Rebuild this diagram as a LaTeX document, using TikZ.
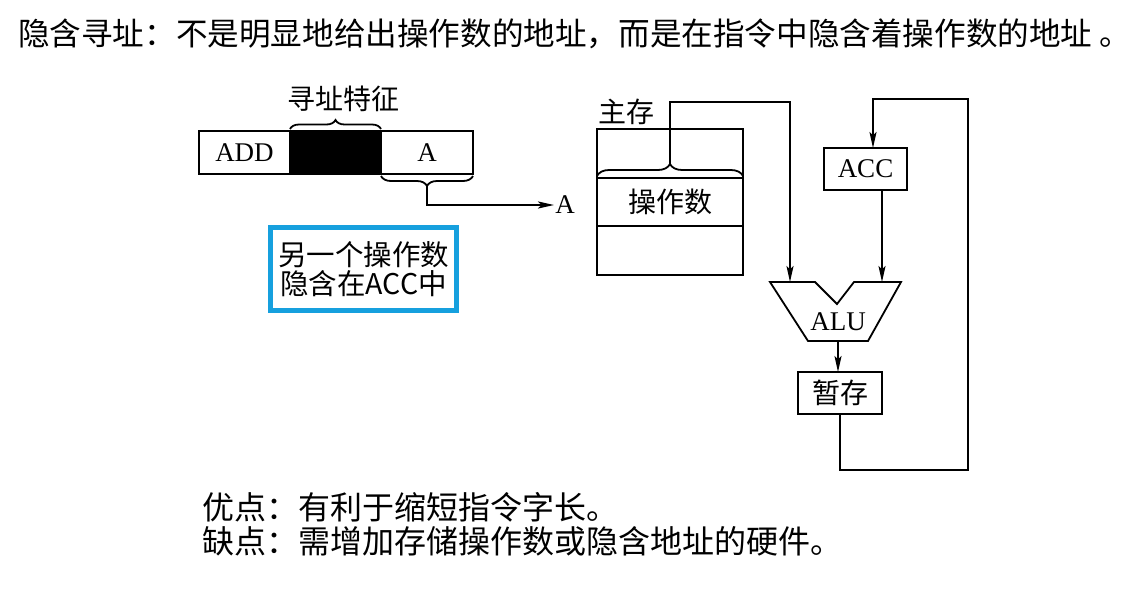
\documentclass[tikz,border=0pt]{standalone}
\usepackage{fontspec}
\setmainfont{Liberation Serif}
\newfontfamily\cjk{Noto Sans CJK SC}
\usetikzlibrary{arrows.meta,calc,positioning,decorations.pathreplacing}
\definecolor{NoteClr}{RGB}{22,160,222}

\begin{document}
\begin{tikzpicture}[x=1pt,y=-1pt]
\tikzset{
  ln/.style={line width=1.8pt},
  cell/.style={draw,ln,outer sep=0pt,inner sep=0pt,minimum height=43pt},
  arr/.style={ln,-{Stealth[length=16pt,width=7pt,inset=3.5pt]}},
  brc/.style={ln,decorate,decoration={brace,amplitude=#1}},
  en/.style={font=\fontsize{27}{30}\selectfont},
  zh/.style={font=\cjk\fontsize{28}{30}\selectfont},
  big/.style={font=\cjk\fontsize{32}{34}\selectfont,anchor=west,inner sep=0pt}
}
\useasboundingbox (0,0) rectangle (1140,594);

% texts
\node[big,font=\cjk\fontsize{31.6}{34}\selectfont] (title) at (18,34) {隐含寻址：不是明显地给出操作数的地址，而是在指令中隐含着操作数的地址 。};
\node[big] (pros) at (202,507) {优点：有利于缩短指令字长。};
\node[big] (cons) at (202,541) {缺点：需增加存储操作数或隐含地址的硬件。};

% instruction
\node[cell,en,minimum width=91pt] (op) at (244.5,152.5) {ADD};
\node[cell,fill=black,minimum width=91pt,right=0pt of op] (mode) {};
\node[cell,en,minimum width=92pt,right=0pt of mode] (addr) {A};

\draw[brc=9pt,decoration={raise=2pt}] (mode.north west) -- (mode.north east);
\node[zh] (modelbl) at (343,99) {寻址特征};

\draw[brc=10pt,decoration={raise=2pt}] (addr.south east) -- (addr.south west);
\coordinate (tipA) at ($(addr.south)+(0,12)$);
\node[en,inner sep=1pt] (ptr) at (565,205) {A};
\draw[arr] (tipA) |- (ptr.west);

\node[draw=NoteClr,line width=4.5pt,minimum width=186pt,minimum height=83pt,
  align=center,font=\cjk\fontsize{28.5}{28.5}\selectfont] (note) at (363.5,269) {另一个操作数\\隐含在ACC中};

% memory
\node[cell,minimum width=146pt,minimum height=49pt] (memtop) at (670,153.5) {};
\node[cell,zh,minimum width=146pt,minimum height=48pt,below=0pt of memtop] (opnd) {操作数};
\node[cell,minimum width=146pt,minimum height=49pt,below=0pt of opnd] (membot) {};
\node[zh,inner sep=0pt] (memlbl) at (626,112) {主存};
\draw[brc=12pt,decoration={raise=2pt}] (opnd.north west) -- (opnd.north east);
\coordinate (memtip) at ($(opnd.north)+(0,-14)$);

% ALU
\coordinate (a1) at (770,282);
\coordinate (a2) at (815,282);
\coordinate (a3) at (837,304);
\coordinate (a4) at (854,282);
\coordinate (a5) at (901,282);
\coordinate (a6) at (868,341);
\coordinate (a7) at (808,341);
\draw[ln,line join=miter] (a1) -- (a2) -- (a3) -- (a4) -- (a5) -- (a6) -- (a7) -- cycle;
\node[en] (alu) at (838,322) {ALU};
\coordinate (aluinL) at (790,282);
\coordinate (aluinR) at (882,282);
\coordinate (aluout) at ($(a7)!.5!(a6)$);

\node[cell,en,minimum width=83pt,minimum height=42pt] (acc) at (865.5,169) {ACC};
\node[cell,zh,minimum width=84pt,minimum height=42pt] (tmp) at (840,393) {暂存};
\coordinate (accin) at ($(acc.north)+(7.5,0)$);

\draw[arr] (memtip) |- ($(aluinL)+(0,-180)$) -- (aluinL);
\draw[arr] (aluinR |- acc.south) -- (aluinR);
\draw[arr] (aluout) -- (aluout |- tmp.north);
\draw[arr] (tmp.south) -- ++(0,56) -| ($(accin)+(95,-49)$) -| (accin);

\end{tikzpicture}
\end{document}
